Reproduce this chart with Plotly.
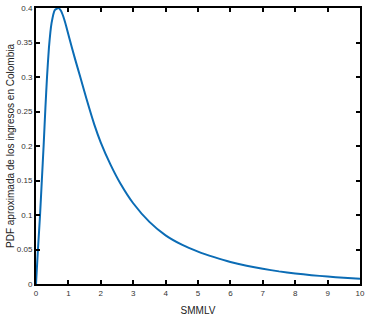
import plotly.graph_objects as go

x_smmlv = [0, 0.06, 0.125, 0.18, 0.235, 0.29, 0.34, 0.40, 0.48, 0.58, 0.69, 0.77, 0.84, 0.93,
           1.03, 1.2, 1.36, 1.56, 1.8, 2.0, 2.3, 2.6, 3.0, 3.5, 4.0, 4.5, 5.0, 5.5, 6.0,
           6.5, 7.0, 7.5, 8.0, 8.5, 9.0, 9.5, 10.0]
pdf_vals = [0, 0.05, 0.10, 0.15, 0.20, 0.255, 0.30, 0.343, 0.378, 0.397, 0.40, 0.396, 0.388, 0.374,
            0.356, 0.327, 0.301, 0.268, 0.231, 0.205, 0.173, 0.146, 0.117, 0.090, 0.0705, 0.057,
            0.047, 0.039, 0.032, 0.0265, 0.022, 0.0183, 0.0153, 0.0128, 0.0108, 0.009, 0.0075]

x_ticks = list(range(0, 11))
y_ticks = [0, 0.05, 0.1, 0.15, 0.2, 0.25, 0.3, 0.35, 0.4]
y_tick_text = ["0", "0.05", "0.1", "0.15", "0.2", "0.25", "0.3", "0.35", "0.4"]

FONT = "Liberation Sans, Arial, sans-serif"

fig = go.Figure()
fig.add_trace(go.Scatter(x=x_smmlv, y=pdf_vals, mode="lines",
                         line=dict(color="#0b6cb5", width=2, shape="spline", smoothing=0.5),
                         showlegend=False, hoverinfo="skip"))

axis_common = dict(showgrid=False, zeroline=False, showline=True, linecolor="black",
                   linewidth=2, mirror="ticks", ticks="inside", ticklen=4, tickwidth=1.5,
                   tickcolor="black", automargin=False,
                   tickfont=dict(family=FONT, size=8, color="#333333"))

fig.update_layout(
    width=373, height=321,
    margin=dict(l=36, r=13, t=8, b=37),
    paper_bgcolor="white", plot_bgcolor="white",
    xaxis=dict(range=[0, 10], tickvals=x_ticks,
               title=dict(text="SMMLV", standoff=10,
                          font=dict(family=FONT, size=10, color="#222222")),
               **axis_common),
    yaxis=dict(range=[0, 0.4], tickvals=y_ticks, ticktext=y_tick_text,
               title=dict(text="PDF aproximada de los ingresos en Colombia", standoff=0,
                          font=dict(family=FONT, size=10, color="#222222")),
               **axis_common),
)

# remove the default page margin so the figure sits at the window's top-left corner
fig.write_html("out.html", config={"displayModeBar": False},
               post_script="document.body.style.margin='0';")
